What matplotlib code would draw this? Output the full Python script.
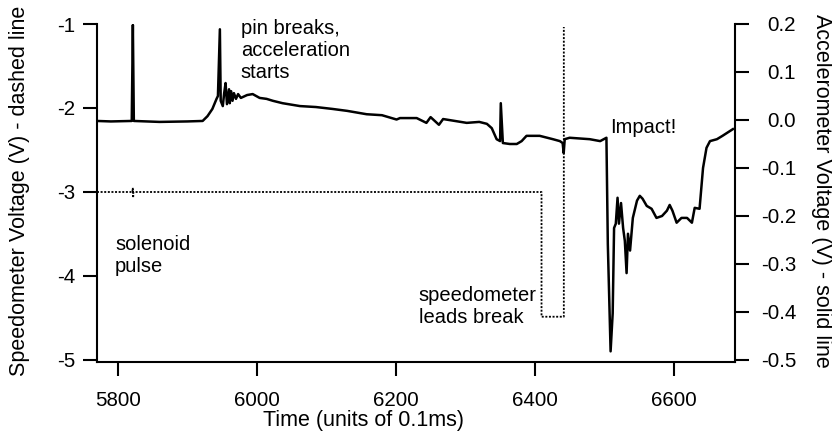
import matplotlib
matplotlib.use("Agg")
import matplotlib.pyplot as plt

plt.rcParams['font.family'] = ['Liberation Sans', 'DejaVu Sans']

# Accelerometer (right axis, solid line)
acc_time = [5770, 5790, 5820, 5821.6, 5823, 5860, 5900, 5922, 5929, 5936, 5942, 5944,
            5946.8, 5948, 5951, 5953, 5955, 5957, 5960, 5961, 5963, 5965, 5967, 5970,
            5973, 5977, 5986, 5994, 6004, 6014, 6023, 6037, 6062, 6085, 6109, 6130,
            6158, 6180, 6201, 6206, 6230, 6244, 6250, 6262, 6268, 6285, 6302, 6320,
            6331, 6338, 6345, 6350, 6351, 6354, 6364, 6374, 6381, 6388, 6407, 6426,
            6436, 6440, 6441.5, 6443, 6450, 6479, 6494, 6503, 6505, 6509, 6512, 6514,
            6516.5, 6519, 6521, 6524, 6527, 6529.5, 6532, 6534, 6537, 6541, 6547, 6551,
            6555, 6561, 6568, 6575, 6583, 6590, 6594, 6598, 6604, 6611, 6619, 6626,
            6630, 6637, 6642, 6647, 6652, 6662, 6670, 6685]
acc_volt = [-0.002, -0.003, -0.002, 0.198, -0.002, -0.004, -0.003, -0.002, 0.008, 0.023,
            0.044, 0.050, 0.189, 0.040, 0.029, 0.056, 0.077, 0.033, 0.064, 0.035, 0.060,
            0.040, 0.056, 0.044, 0.054, 0.046, 0.052, 0.054, 0.046, 0.044, 0.040, 0.035,
            0.029, 0.027, 0.023, 0.019, 0.012, 0.010, 0.001, 0.004, 0.004, -0.006, 0.006,
            -0.010, 0.002, -0.002, -0.006, -0.004, -0.008, -0.017, -0.040, -0.044, 0.035,
            -0.048, -0.050, -0.050, -0.044, -0.033, -0.033, -0.040, -0.044, -0.048, -0.069,
            -0.040, -0.037, -0.040, -0.044, -0.037, -0.258, -0.482, -0.403, -0.225, -0.216,
            -0.162, -0.216, -0.173, -0.225, -0.252, -0.319, -0.237, -0.272, -0.204, -0.168,
            -0.158, -0.164, -0.179, -0.185, -0.204, -0.200, -0.189, -0.177, -0.189, -0.214,
            -0.204, -0.204, -0.214, -0.183, -0.185, -0.100, -0.058, -0.044, -0.040, -0.033,
            -0.019]

# Speedometer (left axis, dotted line)
spd_time = [5770, 5821, 5821.5, 5822, 5822.5, 6409.6, 6409.6, 6441.7, 6441.7]
spd_volt = [-3.0, -3.0, -2.95, -3.07, -3.0, -3.0, -4.485, -4.485, -1.036]

x_ticks = [5800, 6000, 6200, 6400, 6600]
left_ticks = [-5, -4, -3, -2, -1]
right_ticks = [-0.5, -0.4, -0.3, -0.2, -0.1, 0.0, 0.1, 0.2]
right_ticklabels = ['-0.5', '-0.4', '-0.3', '-0.2', '-0.1', '0.0', '0.1', '0.2']

W, H = 832, 436
fig = plt.figure(figsize=(W / 100, H / 100), dpi=100)
ax = fig.add_axes([97 / W, (H - 362) / H, (735 - 97) / W, (362 - 24) / H])
ax2 = ax.twinx()

ax.plot(spd_time, spd_volt, color='black', lw=1.3, linestyle=(0, (1.1, 0.9)))
ax2.plot(acc_time, acc_volt, color='black', lw=1.8)

ax.set_xlim(5770, 6688)
ax.set_ylim(-5.024, -1)
ax2.set_ylim(-0.5042, 0.2)

ax.set_xticks(x_ticks)
ax.set_xticklabels([str(t) for t in x_ticks])
ax.set_yticks(left_ticks)
ax.set_yticklabels([str(t) for t in left_ticks])
ax2.set_yticks(right_ticks)
ax2.set_yticklabels(right_ticklabels)

for a in (ax, ax2):
    a.spines['top'].set_visible(False)
    for s in ('left', 'right', 'bottom'):
        a.spines[s].set_linewidth(1.5)
ax.spines['right'].set_visible(False)
ax2.spines['left'].set_visible(False)
ax2.spines['bottom'].set_visible(False)

ax.tick_params(axis='x', direction='out', length=10, width=1.5, labelsize=14.8, pad=11)
ax.tick_params(axis='y', direction='out', length=10, width=1.5, labelsize=14.8, pad=5.5)
ax2.tick_params(axis='y', direction='out', length=10, width=1.5, labelsize=14.8, pad=34)
for lbl in ax2.get_yticklabels():
    lbl.set_horizontalalignment('right')

ax.set_xlabel('Time (units of 0.1ms)', fontsize=15.5)
ax.xaxis.set_label_coords(0.417, -0.143)
ax.set_ylabel('Speedometer Voltage (V) - dashed line', fontsize=15.5, va='center')
ax.yaxis.set_label_coords(-0.122, 0.507)
ax2.set_ylabel('Accelerometer Voltage (V) - solid line', fontsize=15.5, rotation=270,
               va='center')
ax2.yaxis.set_label_coords(1.135, 0.505)

ann_kw = dict(fontsize=14.5, va='baseline', ha='left', color='black')
# y values give the baseline of the last line of each note
ax.text(5977, -1.643, 'pin breaks,\nacceleration\nstarts', **ann_kw)
ax.text(5796, -3.952, 'solenoid\npulse', **ann_kw)
ax.text(6233, -4.56, 'speedometer\nleads break', **ann_kw)
ax.text(6509, -2.298, 'Impact!', **ann_kw)

fig.savefig('out.png', dpi=100)
